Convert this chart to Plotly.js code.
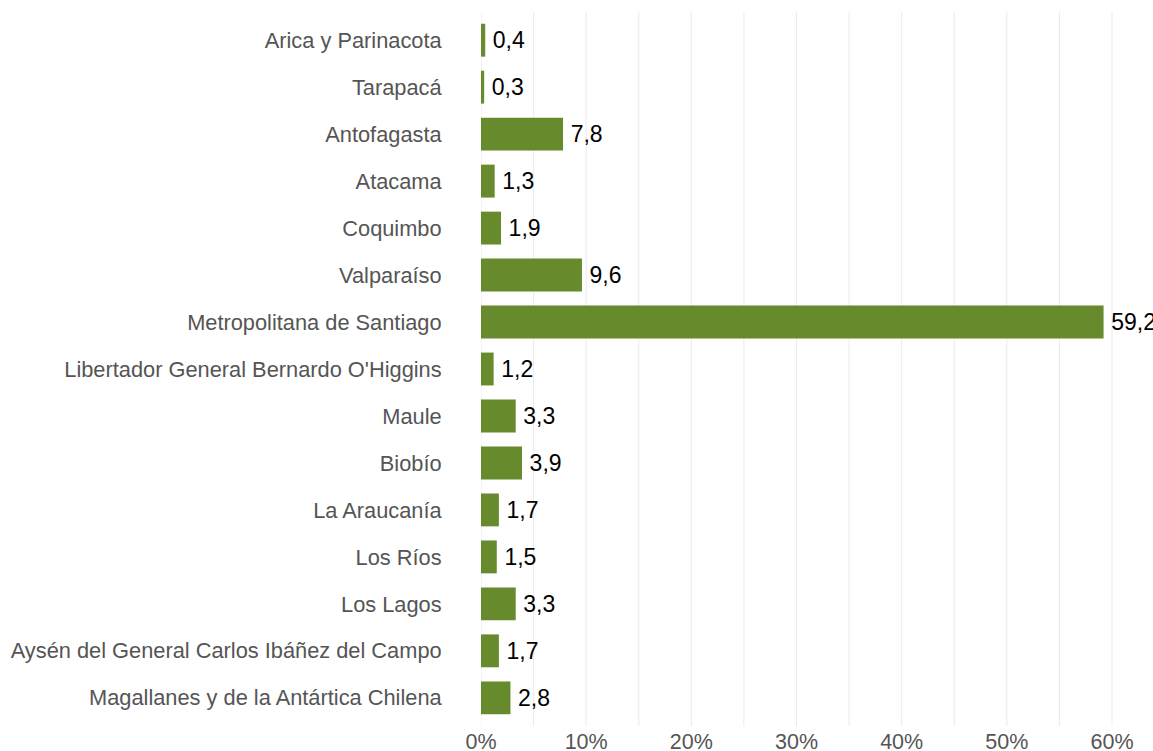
<!DOCTYPE html>
<html>
<head>
<meta charset="utf-8">
<script src="https://cdn.plot.ly/plotly-3.0.1.min.js"></script>
<style>html,body{margin:0;padding:0;background:#fff;}#chart{width:1153px;height:751px;}</style>
</head>
<body>
<div id="chart"></div>
<script>
const regions = [
  "Arica y Parinacota",
  "Tarapacá",
  "Antofagasta",
  "Atacama",
  "Coquimbo",
  "Valparaíso",
  "Metropolitana de Santiago",
  "Libertador General Bernardo O'Higgins",
  "Maule",
  "Biobío",
  "La Araucanía",
  "Los Ríos",
  "Los Lagos",
  "Aysén del General Carlos Ibáñez del Campo",
  "Magallanes y de la Antártica Chilena"
];
const shares = [0.4, 0.3, 7.8, 1.3, 1.9, 9.6, 59.2, 1.2, 3.3, 3.9, 1.7, 1.5, 3.3, 1.7, 2.8];
const xTickVals = [0, 10, 20, 30, 40, 50, 60];
const xTickText = ["0%", "10%", "20%", "30%", "40%", "50%", "60%"];
const gridVals = [0, 5, 10, 15, 20, 25, 30, 35, 40, 45, 50, 55, 60];

const labels = shares.map(v => '\u2009' + v.toFixed(1).replace('.', ','));
const FONT = "'Liberation Sans', Arial, sans-serif";

const trace = {
  type: 'bar',
  orientation: 'h',
  y: regions,
  x: shares,
  text: labels,
  textposition: 'outside',
  cliponaxis: true,
  constraintext: 'none',
  textfont: {family: FONT, size: 23, color: '#000'},
  marker: {color: '#678a2d'},
  width: 0.7,
  hoverinfo: 'none'
};

const layout = {
  width: 1153,
  height: 751,
  margin: {l: 481, r: 0, t: 12, b: 25},
  paper_bgcolor: '#fff',
  plot_bgcolor: '#fff',
  showlegend: false,
  font: {family: FONT, color: '#555'},
  uniformtext: {mode: false},
  xaxis: {
    range: [0, 63.9],
    tickvals: xTickVals,
    ticktext: xTickText,
    showgrid: false,
    zeroline: false,
    tickfont: {family: FONT, size: 21.5, color: '#555'},
    ticks: '',
    fixedrange: true
  },
  yaxis: {
    type: 'category',
    categoryorder: 'array',
    categoryarray: regions,
    range: [14.6, -0.6],
    showgrid: false,
    zeroline: false,
    ticks: 'outside',
    ticklen: 34,
    tickcolor: 'rgba(0,0,0,0)',
    tickfont: {family: FONT, size: 21.8, color: '#555'},
    fixedrange: true
  },
  shapes: gridVals.map(v => ({
    type: 'line', xref: 'x', yref: 'paper', x0: v, x1: v, y0: 0, y1: 1,
    line: {color: '#ebebeb', width: 1}, layer: 'below'
  }))
};

Plotly.newPlot('chart', [trace], layout, {displayModeBar: false, staticPlot: true});
</script>
</body>
</html>
